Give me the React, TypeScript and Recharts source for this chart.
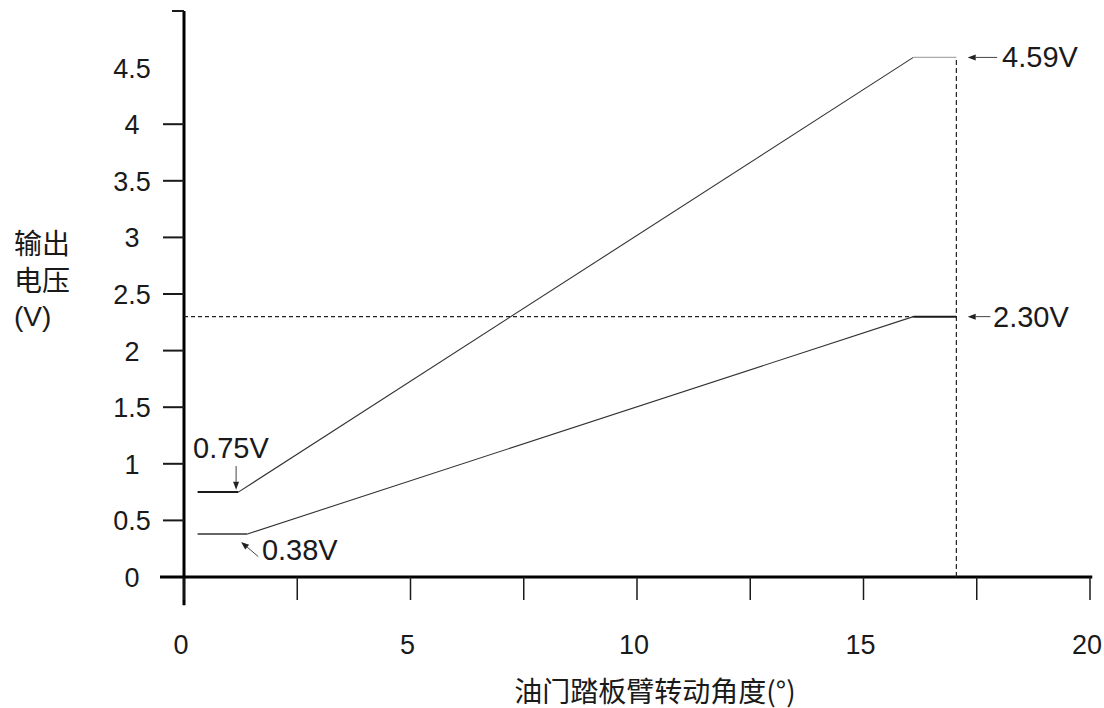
import React from 'react';
import {
  LineChart, Line, XAxis, YAxis, ReferenceLine, ReferenceDot,
} from 'recharts';

// pedal arm angle (deg) -> output voltage (V), two sensor tracks
const upperAngle = [0.3, 1.2, 16.1, 17.05];
const upperVolt = [0.75, 0.75, 4.59, 4.59];
const lowerAngle = [0.3, 1.4, 16.1, 17.05];
const lowerVolt = [0.38, 0.38, 2.3, 2.3];

const xTicks = [0, 2.5, 5, 7.5, 10, 12.5, 15, 17.5, 20];
const xLabels = [0, 5, 10, 15, 20];
const yTicks = [0, 0.5, 1, 1.5, 2, 2.5, 3, 3.5, 4, 4.5, 5];

const FONT = '"Liberation Sans", Arial, sans-serif';
const CJK = '"Noto Sans CJK SC", "Liberation Sans", sans-serif';
const INK = '#1a1a1a';

const seg = (xs: number[], ys: number[], i: number) => [
  { a: xs[i], v: ys[i] },
  { a: xs[i + 1], v: ys[i + 1] },
];

const XTick = (props: any) => {
  const { x, y, payload } = props;
  if (!xLabels.includes(payload.value)) return null;
  return (
    <text x={x - 3} y={y} dy={42} textAnchor="middle" fontSize={27} fontFamily={FONT} fill={INK}>
      {payload.value}
    </text>
  );
};

const YTick = (props: any) => {
  const { x, y, payload } = props;
  const v = payload.value;
  return (
    <g>
      {v !== 4.5 && v !== 0 && (
        <line x1={x - (v === 5 ? 12 : 21)} x2={x} y1={y} y2={y} stroke={INK} strokeWidth={2} />
      )}
      {v !== 5 && (
        <text x={x - 52} y={y} dy={10} textAnchor="middle" fontSize={27} fontFamily={FONT} fill={INK}>
          {v}
        </text>
      )}
    </g>
  );
};

const Arrow = (props: any) => {
  const { x1, y1, x2, y2 } = props;
  const ang = Math.atan2(y2 - y1, x2 - x1);
  const L = 8;
  const W = 3;
  const bx = x2 - L * Math.cos(ang);
  const by = y2 - L * Math.sin(ang);
  const px = -Math.sin(ang) * W;
  const py = Math.cos(ang) * W;
  return (
    <g>
      <line x1={x1} y1={y1} x2={bx} y2={by} stroke="#444" strokeWidth={1} />
      <polygon points={`${x2},${y2} ${bx + px},${by + py} ${bx - px},${by - py}`} fill="#222" />
    </g>
  );
};

const note = (text: string) => (props: any) => (
  <text x={props.cx} y={props.cy} dy={10} fontSize={29} fontFamily={FONT} fill={INK}>
    {text}
  </text>
);

const dark = { stroke: INK, dot: false, isAnimationActive: false, type: 'linear' as const };

export default function App() {
  return (
    <div style={{ position: 'absolute', left: 0, top: 0, width: 1104, height: 708, background: '#fff' }}>
      <LineChart width={1104} height={708} margin={{ top: 11, right: 14, left: 0, bottom: 0 }}>
        <XAxis
          type="number"
          dataKey="a"
          domain={[0, 20]}
          ticks={xTicks}
          axisLine={false}
          tickSize={23}
          tickMargin={12}
          tickLine={{ stroke: INK, strokeWidth: 1.5 }}
          tick={<XTick />}
          height={131}
          interval={0}
        />
        <YAxis
          type="number"
          dataKey="v"
          domain={[0, 5]}
          ticks={yTicks}
          axisLine={false}
          tickLine={false}
          tickSize={0}
          tickMargin={0}
          tick={<YTick />}
          width={184}
          interval={0}
        />

        {/* axes */}
        <ReferenceLine segment={[{ x: -0.53, y: 0 }, { x: 20.05, y: 0 }]} stroke="#000" strokeWidth={3} ifOverflow="visible" />
        <ReferenceLine segment={[{ x: 0, y: -0.25 }, { x: 0, y: 5 }]} stroke="#000" strokeWidth={3} ifOverflow="visible" />

        {/* guide lines */}
        <ReferenceLine segment={[{ x: 0, y: lowerVolt[2] }, { x: lowerAngle[2], y: lowerVolt[2] }]} stroke="#222" strokeWidth={1.2} strokeDasharray="4 3" ifOverflow="visible" />
        <ReferenceLine segment={[{ x: upperAngle[3], y: 0 }, { x: upperAngle[3], y: upperVolt[3] }]} stroke="#222" strokeWidth={1.2} strokeDasharray="5 3" ifOverflow="visible" />

        {/* upper track */}
        <Line data={seg(upperAngle, upperVolt, 0)} dataKey="v" {...dark} strokeWidth={2} />
        <Line data={seg(upperAngle, upperVolt, 1)} dataKey="v" {...dark} stroke="#333" strokeWidth={1.1} />
        <Line data={seg(upperAngle, upperVolt, 2)} dataKey="v" {...dark} stroke="#aaa" strokeWidth={1.2} />

        {/* lower track */}
        <Line data={seg(lowerAngle, lowerVolt, 0)} dataKey="v" {...dark} stroke="#666" strokeWidth={2} />
        <Line data={seg(lowerAngle, lowerVolt, 1)} dataKey="v" {...dark} stroke="#333" strokeWidth={1.1} />
        <Line data={seg(lowerAngle, lowerVolt, 2)} dataKey="v" {...dark} strokeWidth={2} />

        {/* arrows */}
        <ReferenceLine segment={[{ x: 17.95, y: 4.59 }, { x: 17.3, y: 4.59 }]} shape={<Arrow />} ifOverflow="visible" />
        <ReferenceLine segment={[{ x: 17.8, y: 2.3 }, { x: 17.3, y: 2.3 }]} shape={<Arrow />} ifOverflow="visible" />
        <ReferenceLine segment={[{ x: 1.15, y: 0.98 }, { x: 1.15, y: 0.77 }]} shape={<Arrow />} ifOverflow="visible" />
        <ReferenceLine segment={[{ x: 1.64, y: 0.18 }, { x: 1.26, y: 0.31 }]} shape={<Arrow />} ifOverflow="visible" />

        {/* value notes */}
        <ReferenceDot x={18.06} y={4.59} r={0} shape={note('4.59V')} ifOverflow="visible" />
        <ReferenceDot x={17.86} y={2.3} r={0} shape={note('2.30V')} ifOverflow="visible" />
        <ReferenceDot x={0.2} y={1.14} r={0} shape={note('0.75V')} ifOverflow="visible" />
        <ReferenceDot x={1.72} y={0.24} r={0} shape={note('0.38V')} ifOverflow="visible" />
      </LineChart>

      <div style={{ position: 'absolute', left: 14, top: 224, fontFamily: CJK, fontSize: 28, lineHeight: '37px', color: INK }}>
        <div>输出</div>
        <div>电压</div>
        <div style={{ fontFamily: FONT }}>(V)</div>
      </div>
      <div style={{ position: 'absolute', left: 0, width: 1310, top: 670, textAlign: 'center', fontFamily: CJK, fontSize: 28, color: INK }}>
        油门踏板臂转动角度(°)
      </div>
    </div>
  );
}
